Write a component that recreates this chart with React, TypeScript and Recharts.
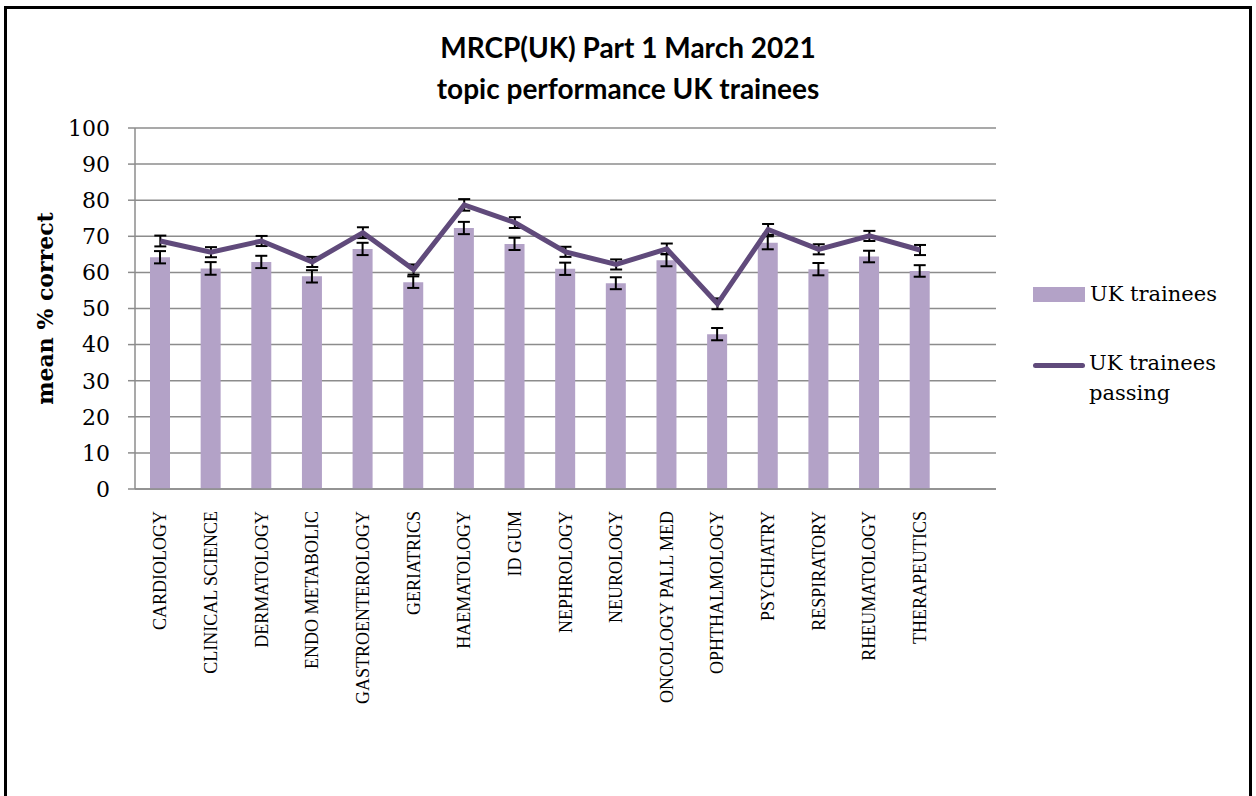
import { ComposedChart, Bar, Line, XAxis, YAxis, CartesianGrid, ErrorBar } from 'recharts'

// topic names (last slot is an empty category, as in the original sheet)
const topics = [
  'CARDIOLOGY', 'CLINICAL SCIENCE', 'DERMATOLOGY', 'ENDO METABOLIC', 'GASTROENTEROLOGY',
  'GERIATRICS', 'HAEMATOLOGY', 'ID GUM', 'NEPHROLOGY', 'NEUROLOGY', 'ONCOLOGY PALL MED',
  'OPHTHALMOLOGY', 'PSYCHIATRY', 'RESPIRATORY', 'RHEUMATOLOGY', 'THERAPEUTICS', '',
]

const ukTrainees = [64.2, 61.1, 62.9, 58.9, 66.5, 57.3, 72.3, 67.9, 61.0, 57.0, 63.4, 42.9, 68.2, 60.9, 64.4, 60.4, null]
const ukTraineesErr = [1.7, 1.75, 1.7, 1.7, 1.7, 1.6, 1.7, 1.7, 1.7, 1.65, 1.7, 1.7, 1.8, 1.7, 1.6, 1.6, 0]

const ukPassing = [68.7, 65.6, 68.7, 62.9, 71.0, 60.8, 78.7, 73.8, 65.7, 62.2, 66.5, 51.3, 71.9, 66.4, 70.1, 66.2, null]
const ukPassingErr = [1.5, 1.4, 1.4, 1.4, 1.5, 1.4, 1.6, 1.5, 1.4, 1.4, 1.5, 1.5, 1.5, 1.4, 1.4, 1.4, 0]

const yTicks = [0, 10, 20, 30, 40, 50, 60, 70, 80, 90, 100]

const data = topics.map((topic, i) => ({
  topic,
  trainees: ukTrainees[i],
  traineesErr: ukTraineesErr[i],
  passing: ukPassing[i],
  passingErr: ukPassingErr[i],
}))

const BAR = '#b3a2c7'
const LINE = '#604a7b'
const GRID = '#8c8c8c'

function TopicTick({ x, y, payload }: any) {
  return (
    <g transform={`translate(${x},${y})`}>
      <text
        transform="rotate(-90)"
        x={-14}
        y={0}
        dy={6}
        textAnchor="end"
        fontFamily="'Liberation Serif', serif"
        fontSize={18}
        fill="#000"
      >
        {payload.value}
      </text>
    </g>
  )
}

function LegendBox() {
  const font = { fontFamily: "'DejaVu Serif', serif", fontSize: 21, color: '#000' }
  return (
    <div style={{ ...font, position: 'absolute', left: 1033, top: 279, width: 220 }}>
      <div style={{ display: 'flex', alignItems: 'center', height: 30 }}>
        <span style={{ display: 'inline-block', width: 52, height: 15, background: BAR, marginRight: 5 }} />
        <span>UK trainees</span>
      </div>
      <div style={{ display: 'flex', alignItems: 'flex-start', marginTop: 39 }}>
        <span style={{ display: 'inline-block', width: 52, height: 5, borderRadius: 3, background: LINE, marginRight: 4, marginTop: 15 }} />
        <span style={{ lineHeight: '30px' }}>UK trainees<br />passing</span>
      </div>
    </div>
  )
}

export default function App() {
  return (
    <div style={{ position: 'absolute', left: 0, top: 0, width: 1256, height: 796, overflow: 'hidden', background: '#fff' }}>
      <div style={{ position: 'absolute', left: 4, top: 6, width: 1242, height: 820, border: '3px solid #000' }} />
      <div
        style={{
          position: 'absolute', left: 0, top: 27, width: 1256, textAlign: 'center',
          fontFamily: 'Lato, sans-serif', fontWeight: 700, fontSize: 28, lineHeight: '41px', color: '#000',
        }}
      >
        MRCP(UK) Part 1 March 2021<br />topic performance UK trainees
      </div>
      <div style={{ position: 'absolute', left: 0, top: 0 }}>
        <ComposedChart width={1256} height={796} data={data} margin={{ top: 128, right: 260, bottom: 0, left: 0 }}>
          <CartesianGrid horizontal vertical={false} stroke={GRID} strokeWidth={1.5} />
          <XAxis
            dataKey="topic"
            interval={0}
            height={307}
            tickLine={false}
            axisLine={{ stroke: GRID, strokeWidth: 1.5 }}
            tick={<TopicTick />}
          />
          <YAxis
            width={135}
            domain={[0, 100]}
            ticks={yTicks}
            interval={0}
            tickSize={7}
            tickMargin={18}
            tickLine={{ stroke: GRID, strokeWidth: 1.5 }}
            axisLine={{ stroke: GRID, strokeWidth: 1.5 }}
            tick={{ fontFamily: "'DejaVu Serif', serif", fontSize: 22, fill: '#000' }}
            label={{
              value: 'mean % correct', angle: -90, position: 'center', dx: -22,
              style: { fontFamily: "'DejaVu Serif', serif", fontSize: 22, fontWeight: 700, fill: '#000' },
            }}
          />
          <Bar dataKey="trainees" name="UK trainees" fill={BAR} barSize={20} isAnimationActive={false}>
            <ErrorBar dataKey="traineesErr" width={6} stroke="#000" strokeWidth={2} direction="y" />
          </Bar>
          <Line
            dataKey="passing"
            name="UK trainees passing"
            stroke={LINE}
            strokeWidth={5}
            dot={false}
            activeDot={false}
            isAnimationActive={false}
          >
            <ErrorBar dataKey="passingErr" width={6} stroke="#000" strokeWidth={2} direction="y" />
          </Line>
        </ComposedChart>
      </div>
      <LegendBox />
    </div>
  )
}
